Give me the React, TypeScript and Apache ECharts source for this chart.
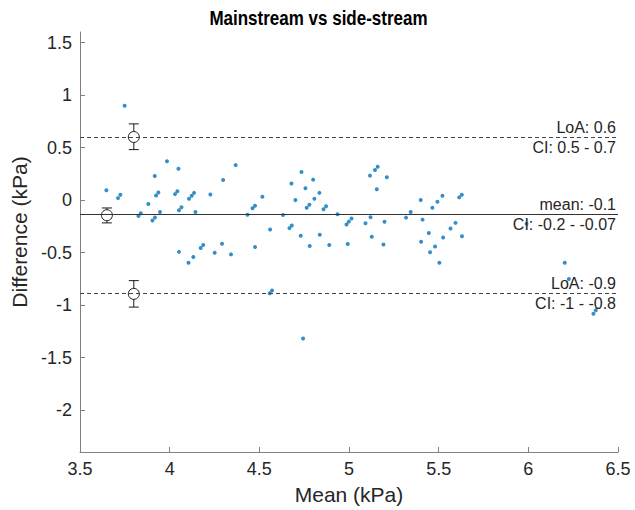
import React, { useEffect, useRef } from 'react';
import * as echarts from 'echarts';

const meanValues = [
  3.749, 3.647, 3.712, 3.725, 3.985, 4.049, 3.917, 3.937, 3.924, 4.030,
  4.043, 4.136, 4.123, 4.108, 4.227, 3.881, 3.839, 3.826, 3.946, 3.918,
  4.066, 4.052, 4.144, 3.904, 4.052, 4.105, 4.132, 4.173, 4.187, 4.251,
  4.368, 4.298, 4.517, 4.476, 4.462, 4.434, 4.632, 4.735, 4.679, 4.800,
  4.757, 4.835, 4.701, 4.807, 4.779, 4.764, 4.872, 4.858, 4.936, 4.560,
  4.681, 4.668, 4.731, 4.837, 4.292, 4.342, 4.476, 4.781, 4.890, 5.117,
  5.145, 5.160, 5.211, 5.155, 5.014, 4.999, 4.986, 5.120, 5.092, 5.198,
  5.127, 4.993, 5.192, 5.318, 5.344, 5.400, 5.410, 5.465, 5.493, 5.521,
  5.614, 5.629, 5.445, 5.402, 5.480, 5.452, 5.504, 5.525, 5.566, 5.594,
  5.630, 5.990, 6.203, 6.226, 6.376, 6.363, 4.571, 4.558, 4.744,
];
const diffValues = [
  0.898, 0.093, 0.018, 0.049, 0.370, 0.298, 0.228, 0.072, 0.043, 0.056,
  0.084, 0.068, 0.040, 0.011, 0.053, -0.039, -0.126, -0.152, -0.114, -0.166,
  -0.070, -0.098, -0.114, -0.196, -0.494, -0.598, -0.542, -0.458, -0.428, -0.503,
  0.332, 0.191, 0.030, -0.055, -0.079, -0.140, -0.142, 0.266, 0.157, 0.194,
  0.112, 0.068, -0.001, 0.011, -0.045, -0.074, -0.060, -0.089, -0.135, -0.281,
  -0.243, -0.268, -0.341, -0.331, -0.416, -0.518, -0.447, -0.438, -0.428, 0.232,
  0.285, 0.317, 0.216, 0.103, -0.177, -0.206, -0.234, -0.164, -0.221, -0.208,
  -0.350, -0.419, -0.423, -0.168, -0.114, -0.001, -0.187, -0.074, -0.017, 0.040,
  0.025, 0.049, -0.315, -0.397, -0.442, -0.498, -0.598, -0.357, -0.272, -0.218,
  -0.345, -0.227, -0.598, -0.753, -1.051, -1.083, -0.862, -0.888, -1.319,
];

const xTicks = [3.5, 4, 4.5, 5, 5.5, 6, 6.5];
const yTicks = [-2, -1.5, -1, -0.5, 0, 0.5, 1, 1.5];

const biasValue = -0.145;
const loaUpper = 0.6;
const loaLower = -0.894;

const errX = [3.65, 3.8, 3.8];
const errCenter = [biasValue, loaUpper, loaLower];
const errLow = [-0.218, 0.48, -1.02];
const errHigh = [-0.076, 0.725, -0.768];

const topLabels = ['mean: -0.1', 'LoA: 0.6', 'LoA: -0.9'];
const bottomLabels = ['CI: -0.2 - -0.07', 'CI: 0.5 - 0.7', 'CI: -1 - -0.8'];
const titleText = 'Mainstream vs side-stream';

const FONT = '"Liberation Sans", Arial, Helvetica, sans-serif';

export default function App() {
  const ref = useRef<HTMLDivElement>(null);
  useEffect(() => {
    if (!ref.current) return;
    const chart = echarts.init(ref.current, undefined, { renderer: 'svg' });
    const lineVals = [biasValue, loaUpper, loaLower];
    const markData: any[] = [];
    lineVals.forEach((v, i) => {
      const dashed = i > 0;
      markData.push({
        yAxis: v,
        lineStyle: { type: dashed ? [4, 3] : 'solid', color: dashed ? '#444' : '#333', width: 1 },
        label: { formatter: topLabels[i], position: 'insideEndTop', distance: 2 },
      });
      markData.push({
        yAxis: v,
        lineStyle: { color: 'rgba(0,0,0,0)', width: 1, type: 'solid' },
        label: { formatter: bottomLabels[i], position: 'insideEndBottom', distance: 2 },
      });
    });
    const option: any = {
      animation: false,
      backgroundColor: '#fff',
      textStyle: { fontFamily: FONT },
      graphic: [
        {
          type: 'text',
          x: 318.5,
          y: 18,
          scaleX: 0.81,
          silent: true,
          style: {
            text: titleText,
            fill: '#000',
            font: 'bold 21px "Liberation Sans", Arial, sans-serif',
            textAlign: 'center',
            textVerticalAlign: 'middle',
          },
        },
      ],
      grid: { left: 80, right: 17, top: 32, bottom: 54 },
      xAxis: {
        type: 'value',
        min: 3.5,
        max: 6.5,
        interval: 0.5,
        name: 'Mean (kPa)',
        nameLocation: 'middle',
        nameGap: 32,
        nameTextStyle: { fontSize: 21, color: '#262626', fontFamily: FONT },
        axisLine: { show: true, onZero: false, lineStyle: { color: '#808080', width: 1 } },
        axisTick: { show: true, inside: true, length: 5, lineStyle: { color: '#808080' }, customValues: xTicks },
        axisLabel: { fontSize: 18, color: '#262626', margin: 8, fontFamily: FONT, customValues: xTicks },
        splitLine: { show: false },
      },
      yAxis: {
        type: 'value',
        min: -2.4,
        max: 1.6,
        name: 'Difference (kPa)',
        nameLocation: 'middle',
        nameGap: 47,
        nameTextStyle: { fontSize: 21, color: '#262626', fontFamily: FONT, padding: [0, 0, 0, 20] },
        axisLine: { show: true, onZero: false, lineStyle: { color: '#808080', width: 1 } },
        axisTick: { show: true, inside: true, length: 5, lineStyle: { color: '#808080' }, customValues: yTicks },
        axisLabel: { fontSize: 18, color: '#262626', margin: 8, fontFamily: FONT, customValues: yTicks },
        splitLine: { show: false },
      },
      series: [
        {
          type: 'scatter',
          data: meanValues.map((m, i) => [m, diffValues[i]]),
          symbol: 'circle',
          symbolSize: 4,
          itemStyle: { color: '#0072BD' },
          silent: true,
          markLine: {
            silent: true,
            animation: false,
            symbol: ['none', 'none'],
            label: { fontSize: 16, color: '#262626', fontFamily: FONT },
            data: markData,
          },
          z: 3,
        },
        {
          type: 'custom',
          clip: false,
          data: errX.map((x, i) => [x, errCenter[i], errLow[i], errHigh[i]]),
          renderItem: (params: any, api: any) => {
            const x = api.value(0);
            const pc = api.coord([x, api.value(1)]);
            const pl = api.coord([x, api.value(2)]);
            const ph = api.coord([x, api.value(3)]);
            const r = 5.5;
            const cw = 5;
            const st = { stroke: '#1a1a1a', lineWidth: 1, fill: 'none' };
            return {
              type: 'group',
              children: [
                { type: 'line', shape: { x1: pc[0], y1: ph[1], x2: pc[0], y2: pc[1] - r }, style: st },
                { type: 'line', shape: { x1: pc[0], y1: pc[1] + r, x2: pc[0], y2: pl[1] }, style: st },
                { type: 'line', shape: { x1: pc[0] - cw, y1: ph[1], x2: pc[0] + cw, y2: ph[1] }, style: st },
                { type: 'line', shape: { x1: pc[0] - cw, y1: pl[1], x2: pc[0] + cw, y2: pl[1] }, style: st },
                { type: 'circle', shape: { cx: pc[0], cy: pc[1], r }, style: st },
              ],
            };
          },
          z: 4,
        },
      ],
    };
    chart.setOption(option);
    return () => chart.dispose();
  }, []);
  return <div ref={ref} style={{ width: 635, height: 510, position: 'absolute', left: 0, top: 0 }} />;
}
